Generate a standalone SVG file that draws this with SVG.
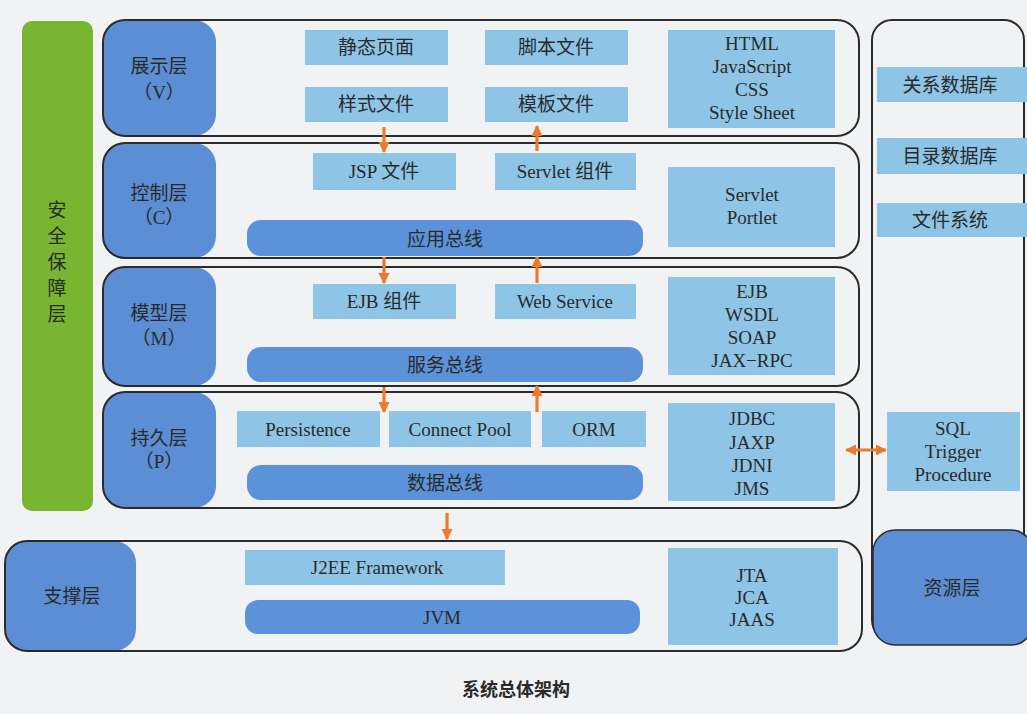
<svg xmlns="http://www.w3.org/2000/svg" width="1027" height="714" viewBox="0 0 1027 714">
<defs>
<style>
.bg{fill:#f1f2f4}
.row{fill:none;stroke:#2b2b2b;stroke-width:2}
.tab{fill:#5b8ed4}
.bus{fill:#5b92d8}
.box{fill:#8ec5e6}
.green{fill:#78b531}
text{font-family:"Liberation Serif","Noto Sans CJK SC",serif;font-size:19px;fill:#2a2a2a;text-anchor:middle;dominant-baseline:central}
.arr{stroke:#ec7a2c;stroke-width:3.2;fill:none}
</style>
<marker id="ah" viewBox="0 0 10 10" refX="9" refY="5" markerWidth="3.6" markerHeight="4" orient="auto-start-reverse" markerUnits="strokeWidth">
<path d="M0,0 L10,5 L0,10 Z" fill="#ec7a2c"/>
</marker>
</defs>
<rect class="bg" x="0" y="0" width="1027" height="714"/>

<g id="security">
<rect class="green" x="22" y="21" width="71" height="490" rx="10"/>
<text x="57" y="210">安</text>
<text x="57" y="236">全</text>
<text x="57" y="262">保</text>
<text x="57" y="288">障</text>
<text x="57" y="314">层</text>
</g>

<g id="layer-v">
<rect class="tab" x="103" y="20" width="113" height="116" rx="22"/>
<rect class="row" x="103" y="20" width="756" height="116" rx="22"/>
<text x="159" y="66">展示层</text>
<text x="159" y="92">（V）</text>
<rect class="box" x="305" y="30" width="143" height="35"/>
<text x="376" y="47">静态页面</text>
<rect class="box" x="305" y="87" width="143" height="35"/>
<text x="376" y="104">样式文件</text>
<rect class="box" x="485" y="30" width="143" height="35"/>
<text x="556" y="47">脚本文件</text>
<rect class="box" x="485" y="87" width="143" height="35"/>
<text x="556" y="104">模板文件</text>
<rect class="box" x="668" y="30" width="167" height="98"/>
<text x="752" y="43">HTML</text>
<text x="752" y="66">JavaScript</text>
<text x="752" y="89">CSS</text>
<text x="752" y="112">Style Sheet</text>
</g>

<g id="layer-c">
<rect class="tab" x="103" y="143" width="113" height="115" rx="22"/>
<rect class="row" x="103" y="143" width="756" height="115" rx="22"/>
<text x="159" y="193">控制层</text>
<text x="159" y="217">（C）</text>
<rect class="box" x="313" y="153" width="143" height="37"/>
<text x="384" y="171">JSP 文件</text>
<rect class="box" x="495" y="153" width="141" height="37"/>
<text x="565" y="171">Servlet 组件</text>
<rect class="bus" x="247" y="220" width="396" height="36" rx="14"/>
<text x="445" y="239">应用总线</text>
<rect class="box" x="668" y="167" width="167" height="80"/>
<text x="752" y="194">Servlet</text>
<text x="752" y="217">Portlet</text>
</g>

<g id="layer-m">
<rect class="tab" x="103" y="267" width="113" height="119" rx="22"/>
<rect class="row" x="103" y="267" width="756" height="119" rx="22"/>
<text x="159" y="313">模型层</text>
<text x="159" y="338">（M）</text>
<rect class="box" x="313" y="284" width="143" height="35"/>
<text x="384" y="301">EJB 组件</text>
<rect class="box" x="495" y="284" width="141" height="35"/>
<text x="565" y="301">Web Service</text>
<rect class="bus" x="247" y="347" width="396" height="35" rx="14"/>
<text x="445" y="365">服务总线</text>
<rect class="box" x="668" y="277" width="167" height="98"/>
<text x="752" y="291">EJB</text>
<text x="752" y="314">WSDL</text>
<text x="752" y="337">SOAP</text>
<text x="752" y="360">JAX−RPC</text>
</g>

<g id="layer-p">
<rect class="tab" x="103" y="392" width="113" height="116" rx="22"/>
<rect class="row" x="103" y="392" width="756" height="116" rx="22"/>
<text x="159" y="438">持久层</text>
<text x="159" y="461">（P）</text>
<rect class="box" x="237" y="411" width="143" height="36"/>
<text x="308" y="429">Persistence</text>
<rect class="box" x="389" y="411" width="142" height="36"/>
<text x="460" y="429">Connect Pool</text>
<rect class="box" x="542" y="411" width="104" height="36"/>
<text x="594" y="429">ORM</text>
<rect class="bus" x="247" y="465" width="396" height="35" rx="14"/>
<text x="445" y="483">数据总线</text>
<rect class="box" x="668" y="403" width="167" height="98"/>
<text x="752" y="418">JDBC</text>
<text x="752" y="442">JAXP</text>
<text x="752" y="465">JDNI</text>
<text x="752" y="488">JMS</text>
</g>

<g id="layer-support">
<rect class="tab" x="5" y="541" width="131" height="110" rx="22"/>
<rect class="row" x="5" y="541" width="857" height="110" rx="22"/>
<text x="72" y="596">支撑层</text>
<rect class="box" x="245" y="550" width="260" height="35"/>
<text x="377" y="567">J2EE Framework</text>
<rect class="bus" x="245" y="600" width="395" height="34" rx="13"/>
<text x="442" y="617">JVM</text>
<rect class="box" x="668" y="548" width="170" height="97"/>
<text x="752" y="575">JTA</text>
<text x="752" y="597">JCA</text>
<text x="752" y="619">JAAS</text>
</g>

<g id="resource">
<rect class="row" x="872" y="20" width="152" height="620" rx="20"/>
<rect class="box" x="877" y="67" width="150" height="35"/>
<text x="950" y="85">关系数据库</text>
<rect class="box" x="877" y="138" width="150" height="36"/>
<text x="950" y="156">目录数据库</text>
<rect class="box" x="877" y="203" width="150" height="34"/>
<text x="950" y="220">文件系统</text>
<rect class="box" x="887" y="412" width="133" height="79"/>
<text x="953" y="428">SQL</text>
<text x="953" y="451">Trigger</text>
<text x="953" y="474">Procedure</text>
<rect class="tab" x="873" y="530" width="160" height="115" rx="22" stroke="#2b2b2b" stroke-width="1.5"/>
<text x="952" y="588">资源层</text>
</g>

<g id="connectors">
<line class="arr" x1="384" y1="127" x2="384" y2="152" marker-end="url(#ah)"/>
<line class="arr" x1="537" y1="151" x2="537" y2="126" marker-end="url(#ah)"/>
<line class="arr" x1="384" y1="257" x2="384" y2="283" marker-end="url(#ah)"/>
<line class="arr" x1="537" y1="283" x2="537" y2="257" marker-end="url(#ah)"/>
<line class="arr" x1="384" y1="387" x2="384" y2="412" marker-end="url(#ah)"/>
<line class="arr" x1="537" y1="412" x2="537" y2="386" marker-end="url(#ah)"/>
<line class="arr" x1="447" y1="513" x2="447" y2="539" marker-end="url(#ah)"/>
<line class="arr" x1="846" y1="450" x2="886" y2="450" marker-start="url(#ah)" marker-end="url(#ah)"/>
</g>

<text x="516" y="688" style="font-family:'Noto Sans CJK SC','Liberation Sans',sans-serif;font-size:18px;font-weight:bold">系统总体架构</text>
</svg>
